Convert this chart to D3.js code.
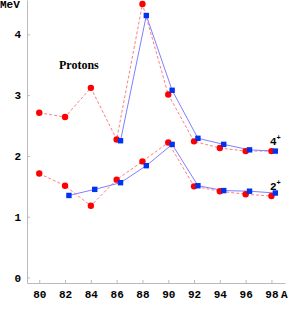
<!DOCTYPE html>
<html>
<head>
<meta charset="utf-8">
<script src="https://cdn.jsdelivr.net/npm/d3@7"></script>
<style>
  body { margin: 0; background: #fff; }
  svg { display: block; }
  .tick text { font-family: 'Liberation Mono', monospace; font-weight: bold; font-size: 11px; fill: #000; }
  .tick line { stroke: #bbb; }
</style>
</head>
<body>
<script>
const massNumbers = [80, 82, 84, 86, 88, 90, 92, 94, 96, 98];
const yTicks = [0, 1, 2, 3, 4];
// red circles: measured, blue squares: calculated (null = no point)
const red4 = [2.71, 2.64, 3.12, 2.27, 4.50, 3.01, 2.24, 2.13, 2.08, 2.08];
const red2 = [1.71, 1.51, 1.18, 1.61, 1.91, 2.22, 1.50, 1.42, 1.37, 1.34];
const blue4 = [null, null, null, 2.25, 4.31, 3.08, 2.29, 2.19, 2.10, 2.08];
const blue2 = [null, 1.35, 1.45, 1.56, 1.84, 2.19, 1.51, 1.43, 1.42, 1.39];

const w = 288, h = 336;
const shift = 0.3; // blue squares drawn a little to the right

const x = d3.scaleLinear().domain([79.05, 99.05]).range([27, 285]);
const y = d3.scaleLinear().domain([-0.09, 4.565]).range([283, 0]);

const svg = d3.select('body').append('svg').attr('width', w).attr('height', h);

// axes
const xAxis = d3.axisBottom(x).tickValues(massNumbers).tickFormat(d3.format('d'))
                .tickSizeInner(-3).tickSizeOuter(0).tickPadding(7);
const yAxis = d3.axisLeft(y).tickValues(yTicks).tickFormat(d3.format('d'))
                .tickSizeInner(-3).tickSizeOuter(0).tickPadding(6);

const gx = svg.append('g').attr('transform', 'translate(0,283)').call(xAxis);
const gy = svg.append('g').attr('transform', 'translate(27,0)').call(yAxis);
svg.selectAll('.domain').attr('stroke', '#bbb');
gx.selectAll('text').attr('dy', '0.71em');

svg.append('text').text('MeV').attr('x', 0).attr('y', 8)
   .style('font-family', 'Liberation Mono').style('font-weight', 'bold').style('font-size', '11px');
svg.append('text').text('A').attr('x', 281).attr('y', 298)
   .style('font-family', 'Liberation Mono').style('font-weight', 'bold').style('font-size', '11px');

function series(vals, dx) {
  return massNumbers.map((a, i) => ({ a: a + dx, v: vals[i] })).filter(d => d.v !== null);
}

const line = d3.line().x(d => x(d.a)).y(d => y(d.v));

[red4, red2].forEach(vals => {
  const pts = series(vals, 0);
  svg.append('path').datum(pts).attr('d', line)
     .attr('fill', 'none').attr('stroke', '#ff7f7f').attr('stroke-width', 1).attr('stroke-dasharray', '3,2');
});
[blue4, blue2].forEach(vals => {
  const pts = series(vals, shift);
  svg.append('path').datum(pts).attr('d', line)
     .attr('fill', 'none').attr('stroke', '#7f7fff').attr('stroke-width', 1);
});

[red4, red2].forEach(vals => {
  svg.append('g').selectAll('circle').data(series(vals, 0)).enter().append('circle')
     .attr('cx', d => x(d.a)).attr('cy', d => y(d.v)).attr('r', 3.2).attr('fill', '#ff0000');
});
[blue4, blue2].forEach(vals => {
  svg.append('g').selectAll('rect').data(series(vals, shift)).enter().append('rect')
     .attr('x', d => x(d.a) - 2.7).attr('y', d => y(d.v) - 2.7)
     .attr('width', 5.4).attr('height', 5.4).attr('fill', '#0033ee');
});

svg.append('text').text('Protons').attr('x', 59).attr('y', 69)
   .style('font-family', 'Liberation Serif').style('font-weight', 'bold').style('font-size', '12px');

const lbl = svg.append('g').style('font-family', 'Liberation Mono').style('font-weight', 'bold');
[['4', 145], ['2', 190]].forEach(([t, yy]) => {
  const txt = lbl.append('text').attr('x', 270).attr('y', yy).style('font-size', '11px').text(t);
  txt.append('tspan').attr('dy', -5).style('font-size', '7px').text('+');
});
</script>
</body>
</html>
